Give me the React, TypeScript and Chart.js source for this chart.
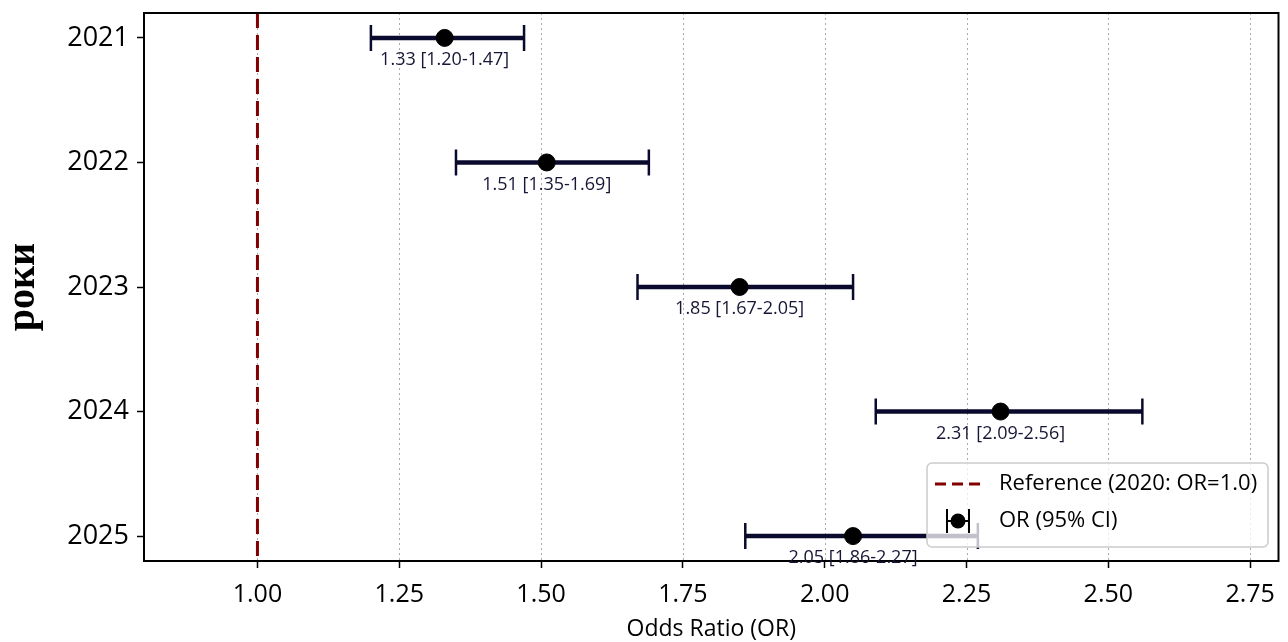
import React, { useEffect, useRef } from 'react';
import { Chart, registerables } from 'chart.js';

Chart.register(...registerables);

// ---- data ----
const years = ['2021', '2022', '2023', '2024', '2025'];
const orValues = [1.33, 1.51, 1.85, 2.31, 2.05];
const ciLower = [1.2, 1.35, 1.67, 2.09, 1.86];
const ciUpper = [1.47, 1.69, 2.05, 2.56, 2.27];
const xTicks = [1.0, 1.25, 1.5, 1.75, 2.0, 2.25, 2.5, 2.75];
const referenceOR = 1.0;
const xTitle = 'Odds Ratio (OR)';
const yTitle = 'роки';
const legendLabels = ['Reference (2020: OR=1.0)', 'OR (95% CI)'];

const FONT = '"Open Sans", sans-serif';
const ERR_COLOR = '#0a0a2e';
const LABEL_COLOR = '#161636';
const REF_COLOR = '#820000';

const fmt = (v: number) => v.toFixed(2);

const forestPlugin = {
  id: 'forest',
  beforeDatasetsDraw(chart: any) {
    const { ctx, chartArea: a, scales } = chart;
    const x = scales.x;
    const y = scales.y;
    ctx.save();
    // dotted grid
    ctx.strokeStyle = '#aaaaaa';
    ctx.lineWidth = 1;
    ctx.setLineDash([2, 3]);
    xTicks.forEach((t) => {
      const px = Math.round(x.getPixelForValue(t)) + 0.5;
      ctx.beginPath();
      ctx.moveTo(px, a.top);
      ctx.lineTo(px, a.bottom);
      ctx.stroke();
    });
    // reference line
    ctx.setLineDash([15, 7]);
    ctx.strokeStyle = REF_COLOR;
    ctx.lineWidth = 3;
    const rx = x.getPixelForValue(referenceOR);
    ctx.beginPath();
    ctx.moveTo(rx, a.top);
    ctx.lineTo(rx, a.bottom);
    ctx.stroke();
    // error bars
    ctx.setLineDash([]);
    ctx.strokeStyle = ERR_COLOR;
    years.forEach((_, i) => {
      const yp = y.getPixelForValue(i);
      const x1 = x.getPixelForValue(ciLower[i]);
      const x2 = x.getPixelForValue(ciUpper[i]);
      ctx.lineWidth = 4.5;
      ctx.beginPath();
      ctx.moveTo(x1, yp);
      ctx.lineTo(x2, yp);
      ctx.stroke();
      ctx.lineWidth = 2.5;
      ctx.beginPath();
      ctx.moveTo(x1, yp - 13);
      ctx.lineTo(x1, yp + 13);
      ctx.moveTo(x2, yp - 13);
      ctx.lineTo(x2, yp + 13);
      ctx.stroke();
    });
    ctx.restore();
  },
  afterDatasetsDraw(chart: any) {
    const { ctx, chartArea: a, scales } = chart;
    const x = scales.x;
    const y = scales.y;
    ctx.save();
    // frame
    ctx.strokeStyle = '#000';
    ctx.lineWidth = 2;
    ctx.strokeRect(a.left, a.top, a.right - a.left, a.bottom - a.top);
    // value labels
    ctx.fillStyle = LABEL_COLOR;
    ctx.font = `18px ${FONT}`;
    ctx.textAlign = 'center';
    ctx.textBaseline = 'middle';
    years.forEach((_, i) => {
      const yp = y.getPixelForValue(i);
      const xp = x.getPixelForValue(orValues[i]);
      ctx.fillText(`${fmt(orValues[i])} [${fmt(ciLower[i])}-${fmt(ciUpper[i])}]`, xp, yp + 22);
    });
    ctx.restore();
  },
  afterDraw(chart: any) {
    const { ctx, chartArea: a } = chart;
    ctx.save();
    // y title
    ctx.translate(24, (a.top + a.bottom) / 2);
    ctx.rotate(-Math.PI / 2);
    ctx.font = 'bold 40px "Liberation Serif", serif';
    ctx.fillStyle = '#000';
    ctx.textAlign = 'center';
    ctx.textBaseline = 'middle';
    ctx.fillText(yTitle, 0, 0);
    ctx.restore();

    ctx.save();
    // x title
    ctx.font = `23px ${FONT}`;
    ctx.fillStyle = '#000';
    ctx.textAlign = 'center';
    ctx.textBaseline = 'middle';
    ctx.fillText(xTitle, (a.left + a.right) / 2, 629);

    // legend
    const bx = 927, by = 463, bw = 341, bh = 84, r = 5;
    ctx.beginPath();
    ctx.moveTo(bx + r, by);
    ctx.arcTo(bx + bw, by, bx + bw, by + bh, r);
    ctx.arcTo(bx + bw, by + bh, bx, by + bh, r);
    ctx.arcTo(bx, by + bh, bx, by, r);
    ctx.arcTo(bx, by, bx + bw, by, r);
    ctx.closePath();
    ctx.fillStyle = 'rgba(255,255,255,0.75)';
    ctx.fill();
    ctx.strokeStyle = '#cccccc';
    ctx.lineWidth = 1.5;
    ctx.stroke();

    // reference sample
    ctx.strokeStyle = REF_COLOR;
    ctx.lineWidth = 3;
    ctx.setLineDash([11, 6]);
    ctx.beginPath();
    ctx.moveTo(935, 484);
    ctx.lineTo(982, 484);
    ctx.stroke();
    ctx.setLineDash([]);

    // errorbar sample
    ctx.strokeStyle = '#000';
    ctx.lineWidth = 2;
    ctx.beginPath();
    ctx.moveTo(947, 521);
    ctx.lineTo(969, 521);
    ctx.moveTo(947, 509);
    ctx.lineTo(947, 533);
    ctx.moveTo(969, 509);
    ctx.lineTo(969, 533);
    ctx.stroke();
    ctx.fillStyle = '#000';
    ctx.beginPath();
    ctx.arc(958, 521, 7.5, 0, Math.PI * 2);
    ctx.fill();

    ctx.font = `22px ${FONT}`;
    ctx.textAlign = 'left';
    ctx.textBaseline = 'middle';
    ctx.fillStyle = '#000';
    ctx.fillText(legendLabels[0], 999, 484);
    ctx.fillText(legendLabels[1], 999, 521);
    ctx.restore();
  },
};

export default function App() {
  const canvasRef = useRef<HTMLCanvasElement | null>(null);

  useEffect(() => {
    document.body.style.margin = '0';
    const canvas = canvasRef.current;
    if (!canvas) return;
    const chart = new Chart(canvas, {
      type: 'scatter',
      data: {
        datasets: [
          {
            label: 'OR (95% CI)',
            data: orValues.map((v, i) => ({ x: v, y: i })),
            backgroundColor: '#000',
            borderColor: '#000',
            pointRadius: 8.5,
            pointHoverRadius: 8.5,
          },
        ],
      },
      options: {
        animation: false,
        responsive: true,
        maintainAspectRatio: false,
        layout: { padding: { left: 0, right: 8, top: 13, bottom: 0 } },
        plugins: {
          legend: { display: false },
          tooltip: { enabled: false },
        },
        scales: {
          x: {
            type: 'linear',
            min: 0.8,
            max: 2.8,
            afterBuildTicks: (s: any) => {
              s.ticks = xTicks.map((v) => ({ value: v }));
            },
            afterFit: (s: any) => {
              s.height = 81;
              s.paddingLeft = 0;
              s.paddingRight = 0;
            },
            ticks: {
              color: '#000',
              font: { family: FONT, size: 25 },
              padding: 12,
              maxRotation: 0,
              callback: (v: any) => Number(v).toFixed(2),
            },
            grid: {
              drawOnChartArea: false,
              drawTicks: true,
              tickLength: 7,
              tickColor: '#000',
              tickWidth: 1.5,
            },
            border: { display: false },
          },
          y: {
            type: 'linear',
            reverse: true,
            min: -0.2,
            max: 4.2,
            afterBuildTicks: (s: any) => {
              s.ticks = years.map((_, i) => ({ value: i }));
            },
            afterFit: (s: any) => {
              s.width = 144;
              s.paddingTop = 0;
              s.paddingBottom = 0;
            },
            ticks: {
              color: '#000',
              font: { family: FONT, size: 27 },
              padding: 8,
              callback: (v: any) => years[Number(v)] ?? '',
            },
            grid: {
              drawOnChartArea: false,
              drawTicks: true,
              tickLength: 7,
              tickColor: '#000',
              tickWidth: 1.5,
            },
            border: { display: false },
          },
        },
      },
      plugins: [forestPlugin],
    });
    return () => chart.destroy();
  }, []);

  return (
    <div style={{ position: 'absolute', left: 0, top: 0, width: '1288px', height: '642px' }}>
      <canvas ref={canvasRef} />
    </div>
  );
}
